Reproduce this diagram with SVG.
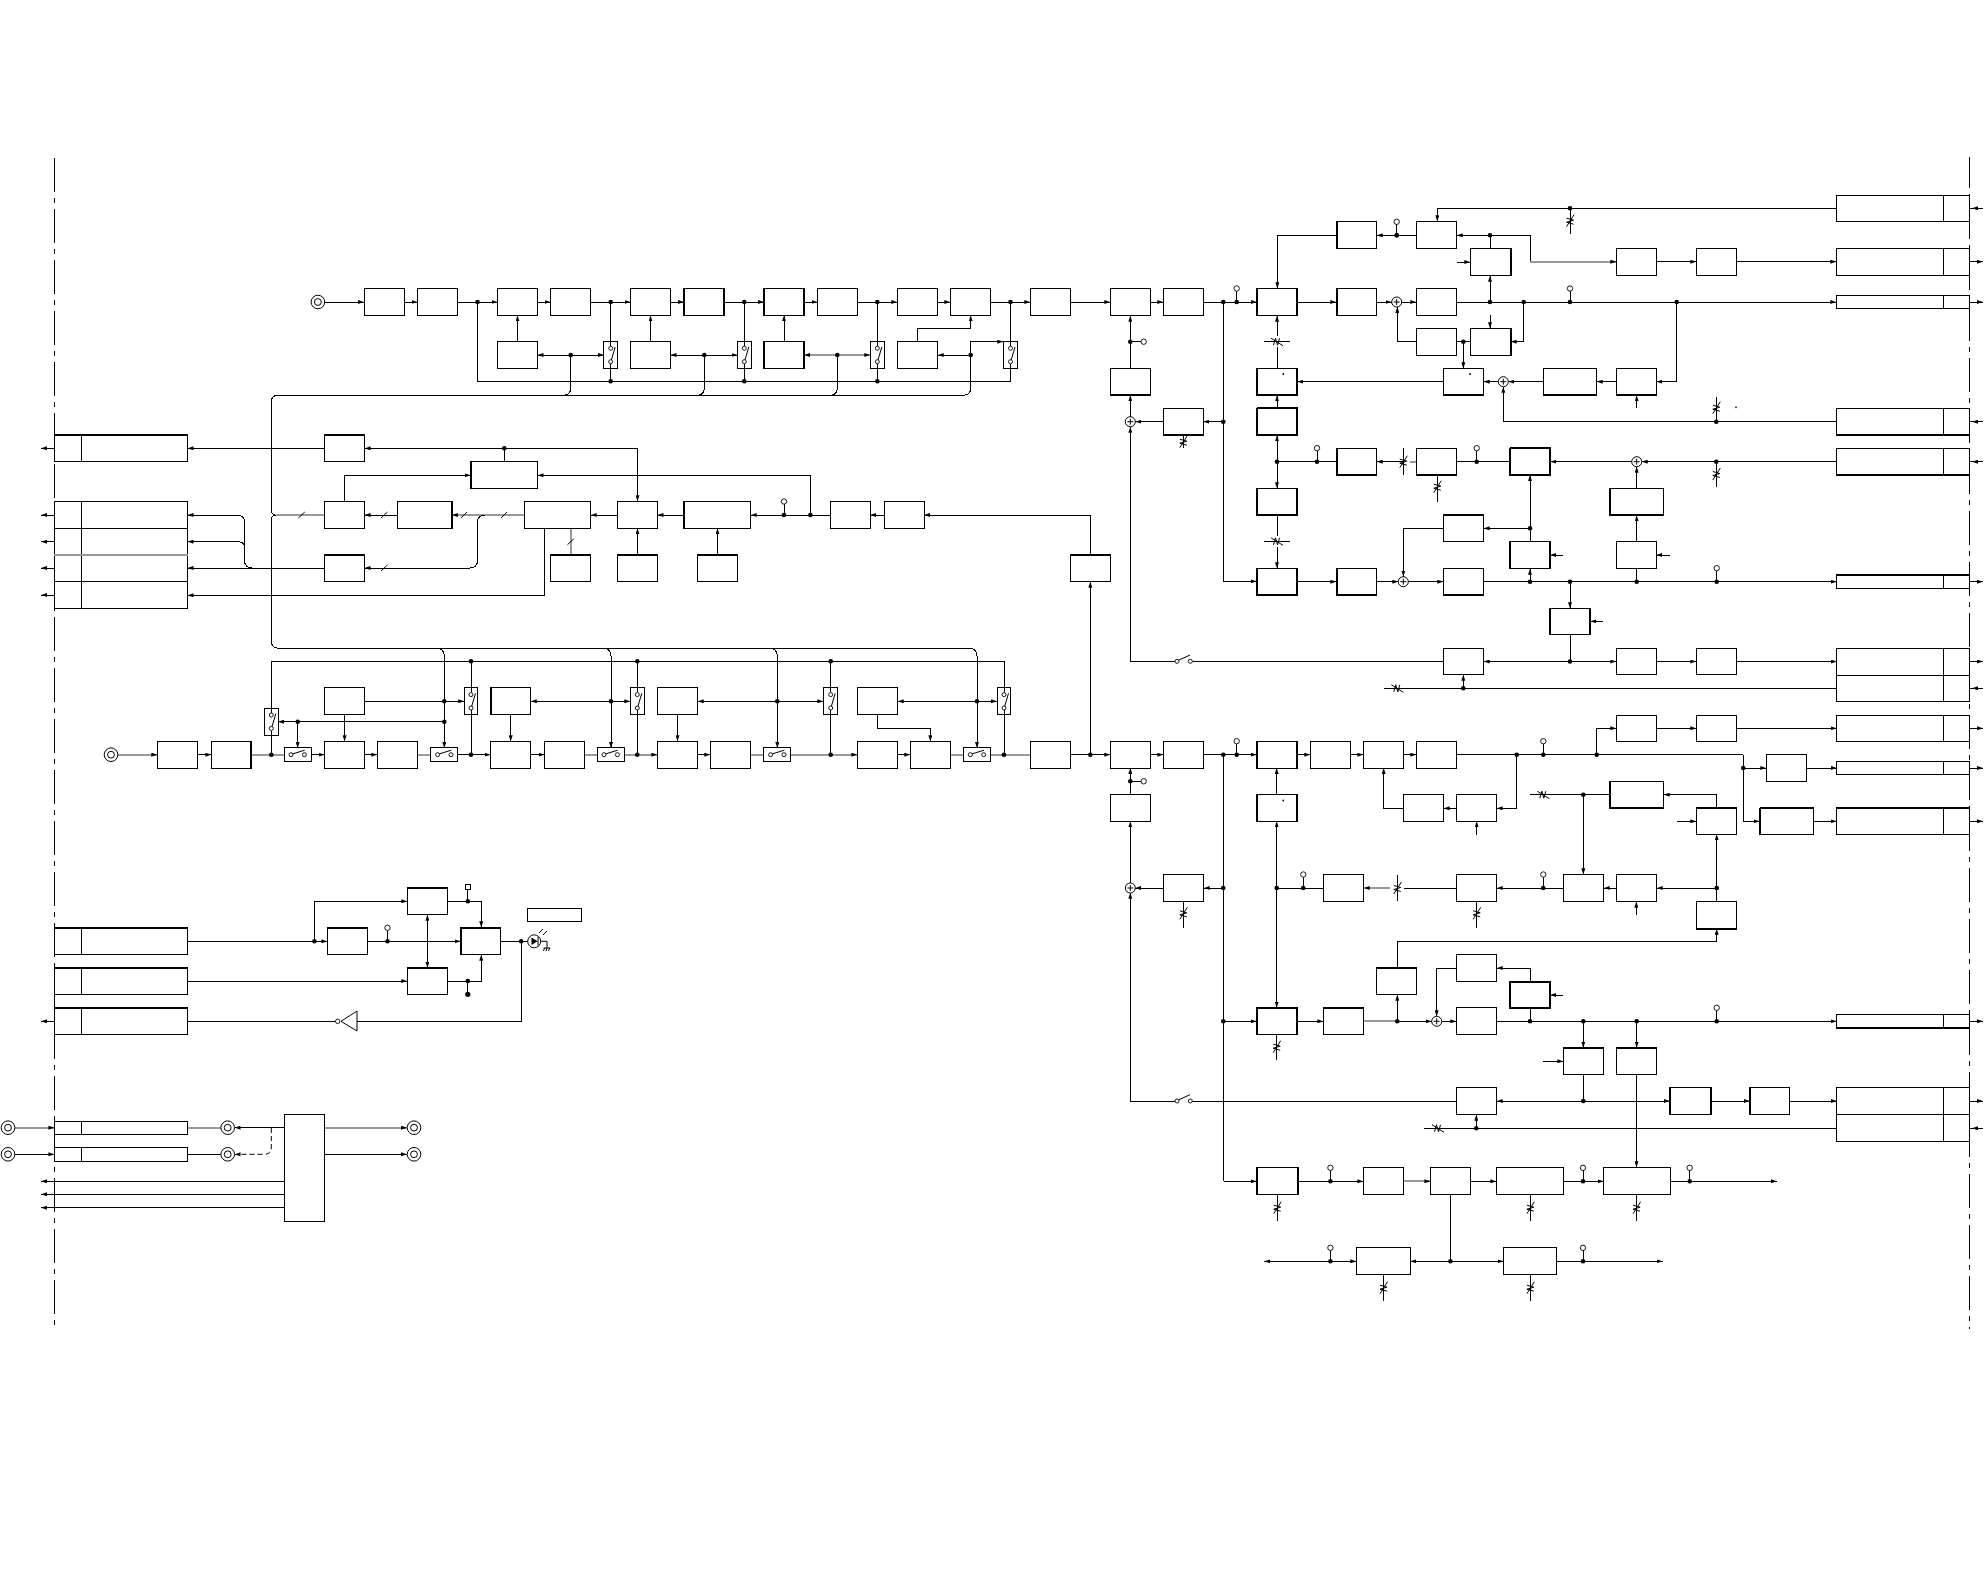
<svg xmlns="http://www.w3.org/2000/svg" width="1984" height="1588" viewBox="0 0 1984 1588">
<style>
path,line,rect{shape-rendering:crispEdges}
.c,.a,.g,.ga{fill:none;stroke:#000;stroke-width:1}
.a,.ga{marker-end:url(#ah)}
.g,.ga{stroke:#999;stroke-width:2}
.b{fill:#fff;stroke:#000;stroke-width:1}
.t{fill:none;stroke:#000;stroke-width:2}
.j{fill:#000;r:2.3px}
.o{fill:#fff;stroke:#000;stroke-width:.9}
.s{fill:#fff;stroke:#000;stroke-width:1;shape-rendering:auto}
.d{fill:none;stroke:#000;stroke-width:1;stroke-dasharray:34 6 5 6}
.y{fill:none;stroke:#000;stroke-width:1;shape-rendering:auto}
</style>
<defs>
<marker id="ah" viewBox="0 0 6 4" refX="6" refY="2" markerWidth="6" markerHeight="4" orient="auto" markerUnits="userSpaceOnUse"><path d="M0,0L6,2L0,4z" fill="#000" style="shape-rendering:auto"/></marker>
<g id="pin"><line x1="0" y1="0" x2="0" y2="-11" class="c"/><circle class="o" cx="0" cy="-13.5" r="2.7"/><circle class="j" cx="0" cy="0"/></g>
<g id="rv"><path class="y" d="M-3.5,6L4,-6M-3.5,-2.5L3.5,-.5L-3.5,1.5L3.5,3.5"/></g>
<g id="swv"><rect class="b" x="-6.8" y="-13.5" width="13.6" height="27"/><path class="c" d="M0,-13.5V-9M0,9V13.5"/><circle class="o" cx="0" cy="-6.7" r="2"/><circle class="o" cx="0" cy="6.7" r="2"/><path class="y" d="M.7,5L4.5,-8"/></g>
<g id="swh"><rect class="b" x="-13.5" y="-6.8" width="27" height="13.6"/><circle class="o" cx="-6.7" cy="0" r="2"/><circle class="o" cx="6.7" cy="0" r="2"/><path class="y" d="M-5,-.8L7,-4.5"/></g>
<g id="con"><circle class="s" cx="0" cy="0" r="6.8"/><circle class="s" cx="0" cy="0" r="3.4"/></g>
<g id="sum"><circle class="s" cx="0" cy="0" r="5"/><path class="y" d="M-3,0H3M0,-3V3"/></g>
</defs>

<g id="boundaries">
<line class="d" x1="54.4" y1="158.3" x2="54.4" y2="1329"/>
<line class="d" x1="1969.5" y1="157" x2="1969.5" y2="1329" stroke-dashoffset="3"/>
</g>

<g id="connectors">
<path class="a" d="M324,302H364"/><path class="a" d="M404,302H417.5"/><path class="a" d="M457.5,302H497.5"/><path class="a" d="M537.5,302H550.5"/><path class="a" d="M590.5,302H630.5"/><path class="a" d="M670.5,302H684"/><path class="a" d="M724,302H764"/><path class="a" d="M804,302H817.5"/><path class="a" d="M857.5,302H897.3"/><path class="a" d="M937.7,302H950.3"/><path class="a" d="M990.7,302H1030.3"/><path class="a" d="M1070.7,302H1110.3"/><path class="a" d="M1150.7,302H1163.3"/><path class="a" d="M1203.3,302H1256.7"/>
<path class="a" d="M517.5,341.3V315.3"/><path class="a" d="M650.5,341.3V315.3"/><path class="a" d="M784,341.3V315.3"/>
<path class="a" d="M571,355H537.5"/><path class="a" d="M571,355H604"/><path class="a" d="M704.3,355H670.5"/><path class="a" d="M704.3,355H737.5"/><path class="ga" d="M837.3,355H804.3"/><path class="ga" d="M837.3,355H870.3"/><path class="a" d="M970.7,355H937.7"/>
<path class="a" d="M970.7,355V341.7H1003.3"/><path class="a" d="M917.3,341.3V328.7H970.7V315.3"/>
<path class="c" d="M610.7,302V341.5M610.7,368.5V381.5M744.3,302V341.5M744.3,368.5V381.5M877.3,302V341.5M877.3,368.5V381.5M1010.5,302V341.5"/>
<path class="c" d="M477.5,302V381.3H1010.5V368.7"/>
<path class="c" d="M271.3,402Q271.3,395.3 278,395.3H963Q970.7,395.3 970.7,388V355M563,395.3Q570.7,395.3 570.7,388V355M697,395.3Q704.3,395.3 704.3,388V355M830,395.3Q837.3,395.3 837.3,388V355"/>
<path class="c" d="M271.3,402V510Q271.3,515 275.5,515Q271.3,515 271.3,520V641Q271.3,648.3 279,648.3H969Q977,648.3 977,656V701.3"/>
<path class="c" d="M436,648.3Q444.3,648.3 444.3,656V701.3M603,648.3Q611,648.3 611,656V701.3M769,648.3Q777.3,648.3 777.3,656V701.3"/>
<path class="a" d="M444.3,701.3V748"/><path class="a" d="M611,701.3V748"/><path class="a" d="M777.3,701.3V748"/><path class="a" d="M977,701.3V748"/>
<path class="a" d="M364.7,701.3H464.2"/><path class="a" d="M611,701.3H530.8"/><path class="a" d="M611,701.3H630.3"/><path class="a" d="M777.3,701.3H697.7"/><path class="a" d="M777.3,701.3H823.3"/><path class="a" d="M977,701.3H897.7"/><path class="a" d="M977,701.3H997"/>
<path class="a" d="M444.3,721.7H278"/><path class="a" d="M297.7,721.7V748"/>
<path class="a" d="M344.6,714.7V741.3"/><path class="a" d="M510.7,714.7V741.3"/><path class="a" d="M677.5,714.7V741.3"/><path class="a" d="M877.3,714.7V728.3H930.3V741.3"/>
<path class="c" d="M271.3,708V661.3H1004V687.5"/>
<path class="c" d="M471,661.3V687.7M471,714.7V754.7M637.3,661.3V687.7M637.3,714.7V754.7M830.7,661.3V687.7M830.7,714.7V754.7M1004,714.7V754.7M271.3,735V754.7"/>
<path class="ga" d="M118,754.7H157.3"/><path class="a" d="M197.5,754.7H211.3"/><path class="g" d="M251.4,754.7H284.4"/><path class="a" d="M311,754.7H324.5"/><path class="a" d="M364.7,754.7H377.3"/><path class="g" d="M417.5,754.7H431"/><path class="a" d="M457.7,754.7H490.6"/><path class="a" d="M530.8,754.7H544.6"/><path class="g" d="M584.8,754.7H597.4"/><path class="ga" d="M624.3,754.7H657.3"/><path class="a" d="M697.7,754.7H710.3"/><path class="g" d="M750.7,754.7H763.7"/><path class="ga" d="M791,754.7H857.3"/><path class="a" d="M897.7,754.7H910.3"/><path class="g" d="M950.7,754.7H963.3"/><path class="g" d="M990.7,754.7H1030.3"/><path class="a" d="M1070.7,754.7H1110.3"/>
<path class="g" d="M275.5,515H324.3"/><path class="a" d="M397.5,515H364.6"/><path class="ga" d="M524.3,515H451.8"/><path class="a" d="M617.5,515H590.7"/><path class="a" d="M683.6,515H657.5"/><path class="a" d="M830.7,515H750.7"/><path class="a" d="M884.5,515H870"/><path class="a" d="M1090.3,554.3V515H924"/><path class="a" d="M1090.3,754.7V581.7"/>
<path class="a" d="M810.4,515V475.3H537.5"/><path class="a" d="M344.6,501.3V475.3H470.7"/>
<path class="a" d="M504.3,448.3H637.5V501.3"/><path class="a" d="M504.3,448.3H364.6"/><path class="c" d="M504.3,448.3V461.3"/>
<path class="a" d="M324.3,448.3H187.5"/>
<path class="g" d="M570.7,554.7V528.3"/><path class="a" d="M637.5,554.7V528.3"/><path class="a" d="M717.5,554.7V528.3"/>
<path class="a" d="M544.6,528.3V595.3H187.5"/>
<path class="a" d="M485,515Q477.5,515 477.5,522V560Q477.5,568 470,568H364.6"/>
<path class="a" d="M252,568Q244.5,568 244.5,560V522Q244.5,515 237,515H187.5"/>
<path class="a" d="M244.5,548Q244.5,541.7 238,541.7H187.5"/>
<path class="a" d="M324.3,568H187.5"/>
<path class="y" d="M298.4,518L304.8,512M381,518L387.4,512M381,571L387.4,565M461,518L467,512M501,518L507,512M567.5,544.7L573.9,538.7"/>
<path class="a" d="M54.4,448.3H41"/><path class="a" d="M54.4,515H41"/><path class="a" d="M54.4,541.7H41"/><path class="a" d="M54.4,568H41"/><path class="a" d="M54.4,595H41"/>
<path class="c" d="M187.4,941.3H314.4"/><path class="a" d="M314.4,941.3H327.4"/><path class="a" d="M314.4,941.3V901.3H407.3"/><path class="a" d="M367.7,941.3H460.6"/>
<path class="a" d="M427.4,930V914.7"/><path class="a" d="M427.4,950V967.7"/><path class="c" d="M427.4,930V950"/>
<path class="a" d="M447.6,901.3H481.2V927.3"/><path class="c" d="M467.8,901.3V890"/>
<path class="a" d="M187.4,981H407.3"/><path class="a" d="M447.6,981H481.2V954.7"/><path class="c" d="M467.8,981V994"/>
<path class="c" d="M500.6,941.3H527.5"/><path class="c" d="M521.2,941.3V1021.3H357"/><path class="c" d="M335.5,1021.3H187.4"/><path class="a" d="M54.4,1021.3H41"/>
<path class="ga" d="M15,1127.7H54.4"/><path class="a" d="M15,1154.3H54.4"/><path class="g" d="M187.4,1127.7H221"/><path class="c" d="M187.4,1154.3H221"/><path class="a" d="M284.3,1127.7H234.5"/>
<path class="y" d="M271.3,1128V1147Q271.3,1154.3 264,1154.3H240" stroke-dasharray="5 3"/><path class="a" d="M240,1154.3H234.5"/>
<path class="ga" d="M324.6,1127.7H407"/><path class="a" d="M324.6,1154.3H407"/>
<path class="a" d="M284.3,1181.3H41"/><path class="a" d="M284.3,1194.3H41"/><path class="a" d="M284.3,1207.7H41"/>
<path class="a" d="M1336.3,235.3H1277.3V288.3"/>
<path class="a" d="M1416.3,235.3H1376.7"/>
<path class="a" d="M1490,235.3H1456.7"/><path class="c" d="M1490,235.3H1530.3V261.7"/><path class="ga" d="M1530.3,261.7H1616.3"/>
<path class="a" d="M1656.3,261.7H1696.3"/><path class="a" d="M1736.7,261.7H1836.3"/><path class="a" d="M1969.5,261.7H1983"/>
<path class="a" d="M1836.3,208.3H1437.3V221.3"/><path class="c" d="M1570,208.3V234.3"/>
<path class="c" d="M1490,235.3V248.3"/><path class="a" d="M1490,302V275.7"/><path class="a" d="M1457,262H1470.3"/>
<path class="a" d="M1297.3,302H1336.3"/><path class="a" d="M1376.7,302H1391.5"/><path class="a" d="M1401.7,302H1416.3"/><path class="a" d="M1456.7,302H1836.3"/><path class="a" d="M1969.5,302H1983"/>
<path class="a" d="M1416.3,341.7H1397.3V307"/><path class="c" d="M1456.7,341.7H1470.3"/><path class="a" d="M1463.3,341.7V368.3"/><path class="a" d="M1490,315V328.3"/><path class="a" d="M1523.7,302V341.7H1510.7"/>
<path class="a" d="M1443.3,381.7H1297.3"/><path class="a" d="M1498.3,381.7H1483.7"/><path class="a" d="M1543.3,381.7H1508.3"/><path class="a" d="M1616.3,381.7H1596.7"/><path class="a" d="M1676.7,302V381.7H1656.3"/><path class="a" d="M1636.7,408V395.3"/>
<path class="c" d="M1836.3,421.7H1503.3"/><path class="a" d="M1503.3,421.7V386.7"/><path class="c" d="M1716.3,396.7V421.7"/>
<path class="a" d="M1277,336V315.7"/><path class="c" d="M1277,368.3V347M1264,341.7H1290"/>
<path class="a" d="M1277,408.3V395.3"/><path class="a" d="M1277,461.7V435.3"/><path class="a" d="M1277,461.7V488.3"/><path class="c" d="M1277,515.3V536"/><path class="a" d="M1277,547V568.3"/><path class="c" d="M1264,541.3H1290"/>
<path class="a" d="M1223.3,302V581.3H1256.7"/>
<path class="a" d="M1130.3,368.3V315.7"/><path class="c" d="M1130.3,341.7H1141"/>
<path class="a" d="M1130.3,416.7V395.3"/><path class="a" d="M1163.3,421.7H1135.3"/><path class="a" d="M1223.3,421.7H1203.3"/><path class="c" d="M1183.3,435.3V448"/>
<path class="a" d="M1130.3,661.3V426.7"/><path class="c" d="M1130.3,661.3H1175"/><path class="c" d="M1192.3,661.3H1443.3"/>
<path class="c" d="M1277,461.7H1336.3"/><path class="a" d="M1403.3,461.7H1376.7"/><path class="c" d="M1403.3,448.3V475"/><path class="g" d="M1416.3,461.7H1410"/><path class="c" d="M1437.3,475V502"/>
<path class="c" d="M1456.7,461.7H1509.7"/><path class="a" d="M1631.7,461.7H1550.3"/><path class="a" d="M1836.3,461.7H1641.7"/><path class="c" d="M1716.3,461.7V487"/>
<path class="a" d="M1530,541.3V475"/><path class="a" d="M1530,528.3H1483.7"/><path class="a" d="M1443.3,528.3H1403.3V576.5"/>
<path class="a" d="M1636.7,488.3V466.7"/><path class="a" d="M1636.7,541.3V515.3"/><path class="a" d="M1670,555H1656.3"/><path class="c" d="M1636.7,568.3V582"/>
<path class="a" d="M1562.7,555H1550.3"/><path class="a" d="M1530,581.7V568.7"/>
<path class="a" d="M1297.3,581.7H1336.3"/><path class="a" d="M1376.7,581.7H1398.3"/><path class="a" d="M1408.3,581.7H1443.3"/><path class="a" d="M1483.7,581.7H1836.7"/><path class="a" d="M1969.5,581.7H1983"/>
<path class="a" d="M1570,581.7V608.3"/><path class="a" d="M1603,621.3H1590.3"/><path class="c" d="M1570,634.7V661.7"/>
<path class="a" d="M1570,661.5H1483.7"/><path class="a" d="M1570,661.5H1616.3"/><path class="a" d="M1656.3,661.5H1696.3"/><path class="a" d="M1736.7,661.5H1836.7"/><path class="a" d="M1969.5,661.5H1983"/>
<path class="c" d="M1836.7,688.3H1384"/><path class="a" d="M1463.3,688.3V674.7"/>
<path class="c" d="M1972,208.3H1969.5"/><path class="a" d="M1983,208.3H1972"/><path class="c" d="M1972,421.7H1969.5"/><path class="a" d="M1983,421.7H1972"/><path class="c" d="M1972,461.7H1969.5"/><path class="a" d="M1983,461.7H1972"/><path class="c" d="M1972,688.3H1969.5"/><path class="a" d="M1983,688.3H1972"/>
<path class="a" d="M1150.7,754.7H1163.3"/><path class="a" d="M1203.3,754.7H1256.7"/><path class="a" d="M1297.3,754.7H1310.3"/><path class="a" d="M1350.7,754.7H1363.3"/><path class="a" d="M1403.7,754.7H1416.3"/>
<path class="c" d="M1456.7,754.7H1743.3"/><path class="a" d="M1596.7,754.7V728.3H1616.3"/><path class="a" d="M1656.7,728.3H1696.3"/><path class="a" d="M1736.7,728.3H1836.7"/><path class="a" d="M1969.5,728.3H1983"/>
<path class="a" d="M1743.3,754.7V821.3H1759.7"/><path class="a" d="M1743.3,768H1766.3"/><path class="a" d="M1806.3,768H1836.7"/><path class="a" d="M1969.5,768H1983"/><path class="a" d="M1813.7,821.3H1836.7"/><path class="a" d="M1969.5,821.3H1983"/>
<path class="a" d="M1516.7,754.7V808.3H1496.7"/><path class="a" d="M1456.3,808.3H1443.7"/><path class="a" d="M1403.3,808.3H1383.7V768"/><path class="a" d="M1476.7,834.7V821.3"/>
<path class="a" d="M1716.7,808V794.7H1663.7"/><path class="a" d="M1676.7,821.3H1696.3"/><path class="c" d="M1716.7,888V834.3"/><path class="a" d="M1716.7,860V834.3"/>
<path class="c" d="M1609.7,794.7H1530"/><path class="a" d="M1583.3,794.7V874.3"/>
<path class="a" d="M1616.3,888H1603.7"/><path class="a" d="M1716.7,888H1656.7"/><path class="a" d="M1636.3,914.7V901.7"/>
<path class="c" d="M1716.7,888V901.3"/><path class="a" d="M1397.3,941.3H1716.7V928.7"/><path class="c" d="M1397.3,941.3V967.7"/><path class="a" d="M1397.3,1021.3V994.7"/>
<path class="a" d="M1563.3,888H1496.7"/><path class="c" d="M1456.3,888H1404"/><path class="ga" d="M1390,888H1363.7"/><path class="c" d="M1397.3,875V901"/><path class="c" d="M1476.7,901.7V928"/>
<path class="a" d="M1530,968H1496.7"/><path class="c" d="M1530,968V981.7M1530,1008.3V1021.3"/><path class="a" d="M1562.7,995H1550.3"/>
<path class="c" d="M1456.3,968H1436.7"/><path class="a" d="M1436.7,968V1016.3"/>
<path class="a" d="M1223.3,1021.3H1256.7"/><path class="a" d="M1297.3,1021.3H1323.3"/><path class="g" d="M1363.7,1021.3H1397.3"/><path class="a" d="M1397.3,1021.3H1431.7"/><path class="a" d="M1441.7,1021.3H1456.3"/><path class="a" d="M1496.7,1021.3H1836.7"/><path class="a" d="M1969.5,1021.3H1983"/>
<path class="a" d="M1583.3,1021.3V1047.7"/><path class="a" d="M1636.7,1021.3V1047.7"/><path class="a" d="M1543,1061.3H1563.3"/><path class="c" d="M1583.3,1074.7V1101"/>
<path class="a" d="M1636.5,1074.7V1167.3"/>
<path class="a" d="M1583.3,1101H1496.7"/><path class="a" d="M1583.3,1101H1669.7"/><path class="a" d="M1710.7,1101H1749.7"/><path class="a" d="M1789.7,1101H1836.7"/><path class="a" d="M1969.5,1101H1983"/>
<path class="c" d="M1836.7,1128.3H1424"/><path class="a" d="M1476.3,1128.3V1114.7"/><path class="c" d="M1972,1128.3H1969.5"/><path class="a" d="M1983,1128.3H1972"/>
<path class="a" d="M1130.3,1101V892.7"/><path class="c" d="M1130.3,1101H1175"/><path class="c" d="M1192.3,1101H1456.3"/>
<path class="a" d="M1130.3,794.3V768"/><path class="c" d="M1130.3,781.3H1141"/><path class="a" d="M1130.3,882.7V821.3"/><path class="a" d="M1163.3,888H1135.3"/><path class="a" d="M1223.3,888H1203.7"/><path class="c" d="M1183.3,901.7V928"/>
<path class="c" d="M1223.3,754.7V1181.3"/>
<path class="a" d="M1276.7,794.3V768"/><path class="a" d="M1276.7,888V821.3"/><path class="a" d="M1276.7,888V1007.7"/><path class="c" d="M1276.7,888H1323.3"/><path class="c" d="M1276.7,1034.3V1060"/>
<path class="a" d="M1223.5,1181.3H1256.7"/><path class="a" d="M1297.8,1181.3H1363.4"/><path class="ga" d="M1403.6,1181.3H1430.4"/><path class="a" d="M1470.5,1181.3H1496.4"/><path class="a" d="M1563.4,1181.3H1603.6"/><path class="a" d="M1670.5,1181.3H1776.8"/>
<path class="c" d="M1277.2,1194.7V1220.7M1530.4,1194.7V1220.7M1636.6,1194.7V1220.7"/>
<path class="c" d="M1450.4,1194.7V1261.3"/><path class="a" d="M1450.4,1261.3H1410.3"/><path class="a" d="M1450.4,1261.3H1503.6"/>
<path class="a" d="M1300,1261.3H1356.3"/><path class="a" d="M1300,1261.3H1264.3"/><path class="a" d="M1556.7,1261.3H1662.5"/>
<path class="c" d="M1383.5,1274.3V1301M1530.4,1274.3V1301"/>
<use href="#rv" transform="translate(1570,220.7)"/><use href="#rv" transform="translate(1183.3,441.7)"/><use href="#rv" transform="translate(1437.3,486.7)"/><use href="#rv" transform="translate(1403.3,461.7)"/><use href="#rv" transform="translate(1716.3,407.7)"/><use href="#rv" transform="translate(1716.3,474)"/><use href="#rv" transform="translate(1397.3,888)"/><use href="#rv" transform="translate(1183.3,913.3)"/><use href="#rv" transform="translate(1476.7,913.3)"/><use href="#rv" transform="translate(1276.7,1046.7)"/><use href="#rv" transform="translate(1277.2,1207.7)"/><use href="#rv" transform="translate(1530.4,1207.7)"/><use href="#rv" transform="translate(1636.6,1207.7)"/><use href="#rv" transform="translate(1383.5,1287.7)"/><use href="#rv" transform="translate(1530.4,1287.7)"/>
<use href="#rv" transform="translate(1277,341.7) rotate(90)"/><use href="#rv" transform="translate(1277,541.3) rotate(90)"/><use href="#rv" transform="translate(1543.3,794.7) rotate(90)"/><use href="#rv" transform="translate(1397.3,688.3) rotate(90)"/><use href="#rv" transform="translate(1438,1128.3) rotate(90)"/>
<use href="#pin" x="784" y="515"/><use href="#pin" x="1236.7" y="302"/><use href="#pin" x="1396.7" y="235.3"/><use href="#pin" x="1570" y="302"/><use href="#pin" x="1317" y="461.7"/><use href="#pin" x="1476.7" y="461.7"/><use href="#pin" x="1716.7" y="581.7"/><use href="#pin" x="1236.7" y="754.7"/><use href="#pin" x="1543.3" y="754.7"/><use href="#pin" x="1303.3" y="888"/><use href="#pin" x="1543.3" y="888"/><use href="#pin" x="1716.7" y="1021.3"/><use href="#pin" x="1330.4" y="1181.3"/><use href="#pin" x="1583" y="1181.3"/><use href="#pin" x="1689.7" y="1181.3"/><use href="#pin" x="1330.4" y="1261.3"/><use href="#pin" x="1583" y="1261.3"/><use href="#pin" x="387.5" y="941.3"/>
<circle class="o" cx="1143.7" cy="341.7" r="2.7"/><circle class="o" cx="1143.7" cy="781.3" r="2.7"/>
<g>
<circle class="j" cx="477.5" cy="302"/><circle class="j" cx="610.7" cy="302"/><circle class="j" cx="744.3" cy="302"/><circle class="j" cx="877.3" cy="302"/><circle class="j" cx="1010.5" cy="302"/>
<circle class="j" cx="570.7" cy="355"/><circle class="j" cx="704.3" cy="355"/><circle class="j" cx="837.3" cy="355"/><circle class="j" cx="970.7" cy="355"/>
<circle class="j" cx="610.7" cy="381.3"/><circle class="j" cx="744.3" cy="381.3"/><circle class="j" cx="877.3" cy="381.3"/>
<circle class="j" cx="504.3" cy="448.3"/><circle class="j" cx="810.4" cy="515"/>
<circle class="j" cx="471" cy="661.3"/><circle class="j" cx="637.3" cy="661.3"/><circle class="j" cx="830.7" cy="661.3"/>
<circle class="j" cx="444.3" cy="701.3"/><circle class="j" cx="611" cy="701.3"/><circle class="j" cx="777.3" cy="701.3"/><circle class="j" cx="977" cy="701.3"/>
<circle class="j" cx="444.3" cy="721.7"/><circle class="j" cx="297.7" cy="721.7"/>
<circle class="j" cx="271.3" cy="754.7"/><circle class="j" cx="471" cy="754.7"/><circle class="j" cx="637.3" cy="754.7"/><circle class="j" cx="830.7" cy="754.7"/><circle class="j" cx="1004" cy="754.7"/><circle class="j" cx="1090.3" cy="754.7"/>
<circle class="j" cx="314.4" cy="941.3"/><circle class="j" cx="467.8" cy="901.3"/><circle class="j" cx="467.8" cy="981"/><circle class="j" cx="467.8" cy="994.3" style="r:2.6px"/><circle class="j" cx="521.2" cy="941.3"/>
<circle class="j" cx="1223.3" cy="302"/><circle class="j" cx="1490" cy="302"/><circle class="j" cx="1523.7" cy="302"/><circle class="j" cx="1676.7" cy="302"/><circle class="j" cx="1396.7" cy="235.3"/><circle class="j" cx="1490" cy="235.3"/><circle class="j" cx="1570" cy="208.3"/>
<circle class="j" cx="1130.3" cy="341.7"/><circle class="j" cx="1463.3" cy="341.7"/><circle class="j" cx="1223.3" cy="421.7"/><circle class="j" cx="1716.3" cy="421.7"/><circle class="j" cx="1716.3" cy="461.7"/><circle class="j" cx="1277" cy="461.7"/><circle class="j" cx="1530" cy="528.3"/>
<circle class="j" cx="1530" cy="581.7"/><circle class="j" cx="1570" cy="581.7"/><circle class="j" cx="1636.7" cy="581.7"/><circle class="j" cx="1570" cy="661.5"/><circle class="j" cx="1463.3" cy="688.3"/>
<circle class="j" cx="1223.3" cy="754.7"/><circle class="j" cx="1516.7" cy="754.7"/><circle class="j" cx="1596.7" cy="754.7"/><circle class="j" cx="1743.3" cy="768"/><circle class="j" cx="1583.3" cy="794.7"/><circle class="j" cx="1130.3" cy="781.3"/>
<circle class="j" cx="1223.3" cy="888"/><circle class="j" cx="1276.7" cy="888"/><circle class="j" cx="1716.7" cy="888"/>
<circle class="j" cx="1223.3" cy="1021.3"/><circle class="j" cx="1397.3" cy="1021.3"/><circle class="j" cx="1530" cy="1021.3"/><circle class="j" cx="1583.3" cy="1021.3"/><circle class="j" cx="1636.7" cy="1021.3"/>
<circle class="j" cx="1583.3" cy="1101"/><circle class="j" cx="1476.3" cy="1128.3"/><circle class="j" cx="1450.4" cy="1261.3"/>
<circle class="j" cx="1736" cy="407.3" style="r:.9px"/>
</g>
</g>

<g id="sw1"><use href="#swv" x="610.7" y="355"/></g><g id="sw2"><use href="#swv" x="744.3" y="355"/></g><g id="sw3"><use href="#swv" x="877.3" y="355"/></g><g id="sw4"><use href="#swv" x="1010.5" y="355"/></g>
<g id="sw5"><use href="#swv" x="271.3" y="721.7"/></g><g id="sw6"><use href="#swv" x="471" y="701.3"/></g><g id="sw7"><use href="#swv" x="637.3" y="701.3"/></g><g id="sw8"><use href="#swv" x="830.7" y="701.3"/></g><g id="sw9"><use href="#swv" x="1004" y="701.3"/></g>
<g id="sw10"><use href="#swh" x="297.7" y="754.7"/></g><g id="sw11"><use href="#swh" x="444.3" y="754.7"/></g><g id="sw12"><use href="#swh" x="610.7" y="754.7"/></g><g id="sw13"><use href="#swh" x="777.3" y="754.7"/></g><g id="sw14"><use href="#swh" x="977" y="754.7"/></g>
<g id="sw15"><circle class="o" cx="1177" cy="661.3" r="2"/><circle class="o" cx="1190.3" cy="661.3" r="2"/><path class="y" d="M1179,660L1190,655"/></g>
<g id="sw16"><circle class="o" cx="1177" cy="1101" r="2"/><circle class="o" cx="1190.3" cy="1101" r="2"/><path class="y" d="M1179,1099.7L1190,1094.7"/></g>

<g id="in1"><use href="#con" x="317.9" y="302"/></g><g id="in2"><use href="#con" x="111" y="754.7"/></g>
<g id="c1"><use href="#con" x="8" y="1127.7"/></g><g id="c2"><use href="#con" x="8" y="1154.3"/></g><g id="c3"><use href="#con" x="227.7" y="1127.7"/></g><g id="c4"><use href="#con" x="227.7" y="1154.3"/></g><g id="c5"><use href="#con" x="414" y="1127.7"/></g><g id="c6"><use href="#con" x="414" y="1154.3"/></g>
<g id="s1"><use href="#sum" x="1396.7" y="302"/></g><g id="s2"><use href="#sum" x="1503.3" y="381.7"/></g><g id="s3"><use href="#sum" x="1636.7" y="461.7"/></g><g id="s4"><use href="#sum" x="1130.3" y="421.7"/></g><g id="s5"><use href="#sum" x="1403.3" y="581.7"/></g><g id="s6"><use href="#sum" x="1130.3" y="888"/></g><g id="s7"><use href="#sum" x="1436.7" y="1021.3"/></g>

<g id="b1"><rect class="b" x="364.3" y="288.3" width="40.3" height="27"/></g>
<g id="b2"><rect class="b" x="417.5" y="288.3" width="40" height="27"/></g>
<g id="b3"><rect class="b" x="497.5" y="288.3" width="40" height="27"/></g>
<g id="b4"><rect class="b" x="550.5" y="288.3" width="40" height="27"/></g>
<g id="b5"><rect class="b" x="630.5" y="288.3" width="40" height="27"/></g>
<g id="b6"><rect class="b" x="684" y="288.3" width="40" height="27"/><path class="t" d="M684,288V315.5M724,288V315.5"/></g>
<g id="b7"><rect class="b" x="764" y="288.3" width="40" height="27"/><path class="t" d="M764,288V315.5M804,288V315.5"/></g>
<g id="b8"><rect class="b" x="817.5" y="288.3" width="40" height="27"/></g>
<g id="b9"><rect class="b" x="897.3" y="288.3" width="40.3" height="27"/></g>
<g id="b10"><rect class="b" x="950.3" y="288.3" width="40.4" height="27"/></g>
<g id="b11"><rect class="b" x="1030.3" y="288.3" width="40.4" height="27"/></g>
<g id="b12"><rect class="b" x="1110.3" y="288.3" width="40.4" height="27"/></g>
<g id="b13"><rect class="b" x="1163.3" y="288.3" width="40" height="27"/></g>
<g id="b14"><rect class="b" x="497.5" y="341.3" width="40" height="27"/></g>
<g id="b15"><rect class="b" x="630.5" y="341.3" width="40" height="27"/></g>
<g id="b16"><rect class="b" x="764" y="341.3" width="40" height="27"/><path class="t" d="M764,341V368.5M804,341V368.5"/></g>
<g id="b17"><rect class="b" x="897.3" y="341.3" width="40.3" height="27"/></g>

<g id="b20"><rect class="b" x="324.3" y="434.3" width="40.3" height="27"/><path class="t" d="M324,434.5H365"/></g>
<g id="b21"><rect class="b" x="470.7" y="461.3" width="66.8" height="27"/><path class="t" d="M470.7,461V489"/></g>
<g id="b22"><rect class="b" x="324.3" y="501.3" width="40.3" height="27"/></g>
<g id="b23"><rect class="b" x="397.5" y="501.3" width="54.3" height="27"/><path class="t" d="M451.8,501V528.5"/></g>
<g id="b24"><rect class="b" x="524.3" y="501.3" width="66.4" height="27"/></g>
<g id="b25"><rect class="b" x="617.5" y="501.3" width="40" height="27"/></g>
<g id="b26"><rect class="b" x="683.6" y="501.3" width="67.1" height="27"/><path class="t" d="M683.6,501V528.5"/></g>
<g id="b27"><rect class="b" x="830.7" y="501.3" width="39.3" height="27"/></g>
<g id="b28"><rect class="b" x="884.5" y="501.3" width="39.5" height="27"/></g>
<g id="b29"><rect class="b" x="324.3" y="554.7" width="40.3" height="27"/><path class="t" d="M324,555H365"/></g>
<g id="b30"><rect class="b" x="550.4" y="554.7" width="40.3" height="27"/><path class="t" d="M550,555H591"/></g>
<g id="b31"><rect class="b" x="617.5" y="554.7" width="40" height="27"/><path class="t" d="M617,555H658"/></g>
<g id="b32"><rect class="b" x="697.5" y="554.7" width="40" height="27"/><path class="t" d="M697,555H738"/></g>
<g id="b33"><rect class="b" x="1070.3" y="554.3" width="40.4" height="27.4"/><path class="t" d="M1070,554.5H1111"/></g>

<g id="t1"><rect class="b" x="54.4" y="434.7" width="133.1" height="26.6"/><path class="c" d="M81.5,434.7V461.3"/><path class="t" d="M54,435H188"/></g>
<g id="t2"><rect class="b" x="54.4" y="501.3" width="133.1" height="107"/><path class="c" d="M81.5,501.3V608.3M54.4,528.3H187.5M54.4,581.3H187.5"/><path class="g" d="M54.4,555H187.5"/></g>
<g id="t3"><rect class="b" x="54.6" y="927.3" width="132.8" height="27.4"/><path class="c" d="M81.5,927.3V954.7"/><path class="t" d="M54,927.8H188"/></g>
<g id="t4"><rect class="b" x="54.6" y="967.7" width="132.8" height="27"/><path class="c" d="M81.5,967.7V994.7"/><path class="t" d="M54,968H188"/></g>
<g id="t5"><rect class="b" x="54.6" y="1007.3" width="132.8" height="27"/><path class="c" d="M81.5,1007.3V1034.3"/><path class="t" d="M54,1007.8H188"/></g>
<g id="t6"><rect class="b" x="54.6" y="1121.3" width="132.8" height="13"/><path class="c" d="M81.5,1121.3V1134.3"/></g>
<g id="t7"><rect class="b" x="54.6" y="1147.3" width="132.8" height="14"/><path class="c" d="M81.5,1147.3V1161.3"/></g>

<g id="b40"><rect class="b" x="157.3" y="741.3" width="40.2" height="27"/></g>
<g id="b41"><rect class="b" x="211.3" y="741.3" width="40.1" height="27"/><path class="t" d="M251.4,741V768.5"/></g>
<g id="b42"><rect class="b" x="324.5" y="741.3" width="40.2" height="27"/></g>
<g id="b43"><rect class="b" x="377.3" y="741.3" width="40.2" height="27"/></g>
<g id="b44"><rect class="b" x="490.6" y="741.3" width="40.2" height="27"/></g>
<g id="b45"><rect class="b" x="544.6" y="741.3" width="40.2" height="27"/></g>
<g id="b46"><rect class="b" x="657.3" y="741.3" width="40.4" height="27"/></g>
<g id="b47"><rect class="b" x="710.3" y="741.3" width="40.4" height="27"/></g>
<g id="b48"><rect class="b" x="857.3" y="741.3" width="40.4" height="27"/></g>
<g id="b49"><rect class="b" x="910.3" y="741.3" width="40.4" height="27"/></g>
<g id="b50"><rect class="b" x="1030.3" y="741.3" width="40.4" height="27"/></g>
<g id="b51"><rect class="b" x="1110.3" y="741.3" width="40.4" height="27"/></g>
<g id="b52"><rect class="b" x="1163.3" y="741.3" width="40" height="27"/></g>
<g id="b53"><rect class="b" x="324.5" y="687.7" width="40.2" height="27"/></g>
<g id="b54"><rect class="b" x="490.6" y="687.7" width="40.2" height="27"/><path class="t" d="M490.6,687V715"/></g>
<g id="b55"><rect class="b" x="657.3" y="687.7" width="40.4" height="27"/></g>
<g id="b56"><rect class="b" x="857.3" y="687.7" width="40.4" height="27"/></g>

<g id="b60"><rect class="b" x="327.4" y="927.3" width="40.3" height="27.4"/><path class="t" d="M327,927.8H368"/></g>
<g id="b61"><rect class="b" x="407.3" y="887.7" width="40.3" height="27"/><path class="t" d="M407,888H448"/></g>
<g id="b62"><rect class="b" x="407.3" y="967.7" width="40.3" height="27"/><path class="t" d="M407,968H448"/></g>
<g id="b63"><rect class="b" x="460.6" y="927.3" width="40" height="27.4"/><path class="t" d="M460,927.8H501M460.6,927V955"/></g>
<g id="b64"><rect class="b" x="527.5" y="908.3" width="54.2" height="13.4"/></g>
<g id="pad"><rect class="b" x="465.4" y="884.7" width="5" height="5"/></g>
<g id="inv"><path class="s" d="M357,1011L341,1021.3L357,1031Z" stroke-width="1.5"/><circle class="o" cx="337.7" cy="1021.3" r="2.2"/></g>
<g id="led"><circle class="s" cx="534.2" cy="941.3" r="6.5"/><path d="M531.5,937.5L537.5,941.3L531.5,945Z" fill="#000" style="shape-rendering:auto"/><path class="y" d="M538,937V945.5M539,933L543,929M543,935L547,931M540.7,941.3H547V948M543.7,948H550.4M544.5,948L543.5,951M547,948L546,951M549.5,948L548.5,951"/></g>
<g id="b65"><rect class="b" x="284.3" y="1114.3" width="40.3" height="107.4"/></g>

<g id="r1"><rect class="b" x="1256.7" y="288.3" width="40.6" height="27"/><path class="t" d="M1257,288V315.5M1297,288V315.5"/></g>
<g id="r2"><rect class="b" x="1336.3" y="288.3" width="40.4" height="27"/><path class="t" d="M1336.5,288V315.5"/></g>
<g id="r3"><rect class="b" x="1416.3" y="288.3" width="40.4" height="27"/></g>
<g id="r4"><rect class="b" x="1336.3" y="221.3" width="40.4" height="27.4"/><path class="t" d="M1336.5,221V249"/></g>
<g id="r5"><rect class="b" x="1416.3" y="221.3" width="40.4" height="27.4"/></g>
<g id="r6"><rect class="b" x="1470.3" y="248.3" width="40.4" height="27.4"/><path class="t" d="M1510.5,248V276"/></g>
<g id="r7"><rect class="b" x="1416.3" y="328.3" width="40.4" height="27.4"/></g>
<g id="r8"><rect class="b" x="1470.3" y="328.3" width="40.4" height="27.4"/><path class="t" d="M1510.5,328V356"/></g>
<g id="r9"><rect class="b" x="1256.7" y="368.3" width="40.6" height="27"/><path class="t" d="M1257,368V396M1297,368V396M1257,395.3H1298"/><circle class="j" cx="1283.3" cy="374" style="r:.9px"/></g>
<g id="r10"><rect class="b" x="1443.3" y="368.3" width="40.4" height="27"/><path class="t" d="M1443,395.3H1484"/><circle class="j" cx="1470" cy="374" style="r:.9px"/></g>
<g id="r11"><rect class="b" x="1543.3" y="368.3" width="53.4" height="27"/><path class="t" d="M1543,395.3H1597"/></g>
<g id="r12"><rect class="b" x="1616.3" y="368.3" width="40" height="27"/><path class="t" d="M1616,395.3H1657"/></g>
<g id="r13"><rect class="b" x="1110.3" y="368.3" width="40.4" height="27"/><path class="t" d="M1110,395.3H1151"/></g>
<g id="r14"><rect class="b" x="1163.3" y="408.3" width="40" height="27"/><path class="t" d="M1163,435.3H1204"/></g>
<g id="r15"><rect class="b" x="1256.7" y="408.3" width="40.6" height="27"/><path class="t" d="M1257,408V436M1297,408V436M1257,408.3H1298M1257,435.3H1298"/></g>
<g id="r16"><rect class="b" x="1336.3" y="448.3" width="40.4" height="27"/><path class="t" d="M1336.5,448V475.5M1336,475.3H1377"/></g>
<g id="r17"><rect class="b" x="1416.3" y="448.3" width="40.4" height="27"/><path class="t" d="M1416,475.3H1457"/></g>
<g id="r18"><rect class="b" x="1509.7" y="448.3" width="40.6" height="27"/><path class="t" d="M1510,448V476M1550,448V476M1510,448.3H1551M1510,475.3H1551"/></g>
<g id="r19"><rect class="b" x="1256.7" y="488.3" width="40.6" height="27"/><path class="t" d="M1257,488V516M1297,488V516M1257,515.3H1298"/></g>
<g id="r20"><rect class="b" x="1609.7" y="488.3" width="53.6" height="27"/><path class="t" d="M1610,488V516M1610,515.3H1664"/></g>
<g id="r21"><rect class="b" x="1443.3" y="514.7" width="40.4" height="27"/><path class="t" d="M1443,515H1484"/></g>
<g id="r22"><rect class="b" x="1509.7" y="541.3" width="40.6" height="27.4"/><path class="t" d="M1510,541V569M1550,541V569"/></g>
<g id="r23"><rect class="b" x="1616.3" y="541.3" width="40" height="27"/></g>
<g id="r24"><rect class="b" x="1256.7" y="568.3" width="40.6" height="27"/><path class="t" d="M1257,568V596M1297,568V596M1257,595.3H1298"/></g>
<g id="r25"><rect class="b" x="1336.3" y="568.3" width="40.4" height="27"/><path class="t" d="M1336.5,568V596M1336,595.3H1377"/></g>
<g id="r26"><rect class="b" x="1443.3" y="568.3" width="40.4" height="27"/><path class="t" d="M1443,595.3H1484"/></g>
<g id="r27"><rect class="b" x="1549.7" y="608.3" width="40.6" height="26.4"/><path class="t" d="M1550,608V635M1590,608V635"/></g>
<g id="r28"><rect class="b" x="1443.3" y="648.3" width="40.4" height="26.4"/></g>
<g id="r29"><rect class="b" x="1616.3" y="248.3" width="40" height="27"/></g>
<g id="r30"><rect class="b" x="1696.3" y="248.3" width="40.4" height="27"/></g>
<g id="r31"><rect class="b" x="1616.3" y="648.3" width="40.4" height="26.4"/></g>
<g id="r32"><rect class="b" x="1696.3" y="648.3" width="40.4" height="26.4"/></g>

<g id="q1"><rect class="b" x="1256.7" y="741.3" width="40.6" height="27"/><path class="t" d="M1257,741V768.5M1297,741V768.5"/></g>
<g id="q2"><rect class="b" x="1310.3" y="741.3" width="40.4" height="27"/></g>
<g id="q3"><rect class="b" x="1363.3" y="741.3" width="40.4" height="27"/></g>
<g id="q4"><rect class="b" x="1416.3" y="741.3" width="40.4" height="27"/></g>
<g id="q5"><rect class="b" x="1616.3" y="715" width="40.4" height="26.3"/></g>
<g id="q6"><rect class="b" x="1696.3" y="715" width="40.4" height="26.3"/></g>
<g id="q7"><rect class="b" x="1766.3" y="754.3" width="40" height="27"/></g>
<g id="q8"><rect class="b" x="1759.7" y="808" width="54" height="26.3"/><path class="t" d="M1760,808V835M1760,808.3H1814"/></g>
<g id="q9"><rect class="b" x="1256.7" y="794.3" width="40.6" height="27"/><path class="t" d="M1257,794V821.5M1297,794V821.5"/><circle class="j" cx="1283.3" cy="800.5" style="r:.9px"/></g>
<g id="q10"><rect class="b" x="1403.3" y="794.3" width="40.4" height="27"/></g>
<g id="q11"><rect class="b" x="1456.3" y="794.3" width="40.4" height="27"/></g>
<g id="q12"><rect class="b" x="1110.3" y="794.3" width="40.4" height="27"/></g>
<g id="q13"><rect class="b" x="1609.7" y="781.3" width="54" height="27"/><path class="t" d="M1610,781V808.5M1610,808.3H1664"/></g>
<g id="q14"><rect class="b" x="1696.3" y="808" width="40.4" height="26.3"/><path class="t" d="M1696,808.3H1737"/></g>
<g id="q15"><rect class="b" x="1163.3" y="874.3" width="40.4" height="27.4"/></g>
<g id="q16"><rect class="b" x="1323.3" y="874.3" width="40.4" height="27.4"/></g>
<g id="q17"><rect class="b" x="1456.3" y="874.3" width="40.4" height="27.4"/></g>
<g id="q18"><rect class="b" x="1563.3" y="874.3" width="40.4" height="27.4"/></g>
<g id="q19"><rect class="b" x="1616.3" y="874.3" width="40.4" height="27.4"/></g>
<g id="q20"><rect class="b" x="1696.3" y="901.3" width="40.4" height="27.4"/><path class="t" d="M1696,928.5H1737"/></g>
<g id="q21"><rect class="b" x="1456.3" y="954.3" width="40.4" height="27.4"/></g>
<g id="q22"><rect class="b" x="1376.7" y="967.7" width="40" height="27"/><path class="t" d="M1376,968H1417"/></g>
<g id="q23"><rect class="b" x="1509.7" y="981.7" width="40.6" height="26.6"/><path class="t" d="M1510,981V1009M1550,981V1009M1510,982H1551M1510,1008H1551"/></g>
<g id="q24"><rect class="b" x="1256.7" y="1007.7" width="40.6" height="26.6"/><path class="t" d="M1257,1007V1035M1297,1007V1035M1257,1008H1298"/></g>
<g id="q25"><rect class="b" x="1323.3" y="1007.7" width="40.4" height="26.6"/><path class="t" d="M1323,1008H1364"/></g>
<g id="q26"><rect class="b" x="1456.3" y="1007.7" width="40.4" height="26.6"/></g>
<g id="q27"><rect class="b" x="1563.3" y="1047.7" width="40.4" height="27"/><path class="t" d="M1563,1048H1604"/></g>
<g id="q28"><rect class="b" x="1616.3" y="1047.7" width="40.4" height="27"/><path class="t" d="M1616,1048H1657"/></g>
<g id="q29"><rect class="b" x="1456.3" y="1087.7" width="40.4" height="27"/></g>
<g id="q30"><rect class="b" x="1669.7" y="1087.7" width="41" height="27"/><path class="t" d="M1670,1087V1115M1710.5,1087V1115"/></g>
<g id="q31"><rect class="b" x="1749.7" y="1087.7" width="40" height="27"/><path class="t" d="M1750,1087V1115"/></g>
<g id="q32"><rect class="b" x="1256.7" y="1167.3" width="41.1" height="27.4"/><path class="t" d="M1257,1167V1195M1297.5,1167V1195"/></g>
<g id="q33"><rect class="b" x="1363.4" y="1167.3" width="40.2" height="27.4"/></g>
<g id="q34"><rect class="b" x="1430.4" y="1167.3" width="40.1" height="27.4"/></g>
<g id="q35"><rect class="b" x="1496.4" y="1167.3" width="67" height="27.4"/></g>
<g id="q36"><rect class="b" x="1603.6" y="1167.3" width="66.9" height="27.4"/></g>
<g id="q37"><rect class="b" x="1356.3" y="1247.3" width="54" height="27"/></g>
<g id="q38"><rect class="b" x="1503.6" y="1247.3" width="53.1" height="27"/></g>

<g id="u1"><rect class="b" x="1836.3" y="195.3" width="133.2" height="26"/><path class="c" d="M1943.3,195.3V221.3"/></g>
<g id="u2"><rect class="b" x="1836.3" y="248.3" width="133.2" height="27"/><path class="c" d="M1943.3,248.3V275.3"/></g>
<g id="u3"><rect class="b" x="1836.3" y="295.3" width="133.2" height="13"/><path class="c" d="M1943.3,295.3V308.3"/></g>
<g id="u4"><rect class="b" x="1836.3" y="408.3" width="133.2" height="27"/><path class="c" d="M1943.3,408.3V435.3"/><path class="t" d="M1836,435H1970"/></g>
<g id="u5"><rect class="b" x="1836.3" y="448.3" width="133.2" height="27"/><path class="c" d="M1943.3,448.3V475.3"/><path class="t" d="M1836,475H1970"/></g>
<g id="u6"><rect class="b" x="1836.3" y="574.7" width="133.2" height="13.6"/><path class="c" d="M1943.3,574.7V588.3"/><path class="t" d="M1836,575H1970"/></g>
<g id="u7"><rect class="b" x="1836.7" y="648.3" width="132.8" height="53"/><path class="c" d="M1943.3,648.3V701.3M1836.7,675.3H1969.5"/></g>
<g id="u8"><rect class="b" x="1836.7" y="715" width="132.8" height="26.3"/><path class="c" d="M1943.3,715V741.3"/></g>
<g id="u9"><rect class="b" x="1836.7" y="761.3" width="132.8" height="13"/><path class="c" d="M1943.3,761.3V774.3"/></g>
<g id="u10"><rect class="b" x="1836.7" y="808" width="132.8" height="26.3"/><path class="c" d="M1943.3,808V834.3"/><path class="t" d="M1836,808.3H1970"/></g>
<g id="u11"><rect class="b" x="1836.7" y="1014.7" width="132.8" height="13.6"/><path class="c" d="M1943.3,1014.7V1028.3"/><path class="t" d="M1836,1028H1970"/></g>
<g id="u12"><rect class="b" x="1836.7" y="1087.7" width="132.8" height="53.6"/><path class="c" d="M1943.3,1087.7V1141.3M1836.7,1114.7H1969.5"/></g>
</svg>
